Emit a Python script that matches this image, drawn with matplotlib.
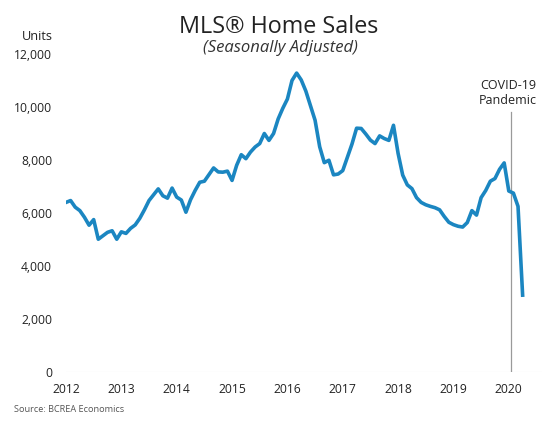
import matplotlib
matplotlib.use("Agg")
import matplotlib.pyplot as plt
import numpy as np

# monthly MLS home sales, Jan 2012 .. Apr 2020 (seasonally adjusted)
sales_2012 = [6400, 6470, 6220, 6090, 5840, 5540, 5750, 5010, 5140, 5270, 5330, 5010]
sales_2013 = [5290, 5230, 5420, 5550, 5800, 6120, 6470, 6690, 6910, 6650, 6560, 6940]
sales_2014 = [6600, 6490, 6030, 6500, 6850, 7160, 7200, 7450, 7700, 7550, 7540, 7580]
sales_2015 = [7230, 7800, 8200, 8050, 8300, 8490, 8620, 9000, 8740, 9000, 9550, 9950]
sales_2016 = [10300, 11000, 11280, 11020, 10600, 10050, 9500, 8500, 7900, 7990, 7440, 7470]
sales_2017 = [7600, 8100, 8600, 9200, 9190, 8980, 8750, 8620, 8910, 8810, 8740, 9310]
sales_2018 = [8250, 7430, 7060, 6920, 6580, 6400, 6310, 6250, 6200, 6120, 5870, 5650]
sales_2019 = [5560, 5500, 5470, 5640, 6090, 5920, 6580, 6850, 7200, 7300, 7650, 7890]
sales_2020 = [6830, 6750, 6250, 2900]

sales = sales_2012 + sales_2013 + sales_2014 + sales_2015 + sales_2016 + \
        sales_2017 + sales_2018 + sales_2019 + sales_2020
months = np.arange(len(sales))

years = ["2012", "2013", "2014", "2015", "2016", "2017", "2018", "2019", "2020"]
year_ticks = [12 * i for i in range(len(years))]
y_ticks = [0, 2000, 4000, 6000, 8000, 10000, 12000]
covid_month = 96.4

fig = plt.figure(figsize=(5.53, 4.21), dpi=100)
ax = fig.add_axes([66 / 553, 1 - 372 / 421, (542 - 66) / 553, (372 - 54) / 421])

ax.plot(months, sales, color="#1b86c1", lw=2.6, solid_joinstyle="round", zorder=3)
ax.axhline(0, color="#e3e3e3", lw=0.8, zorder=1)
ax.axvline(covid_month, ymin=0, ymax=(372 - 112) / 318, color="#9a9a9a", lw=0.9, zorder=2)

ax.set_xlim(0, 103.2)
ax.set_ylim(0, 12000)
ax.set_xticks(year_ticks)
ax.set_xticklabels(years)
ax.set_yticks(y_ticks)
ax.set_yticklabels([f"{v:,}" for v in y_ticks])
ax.tick_params(length=0, labelsize=8.7, colors="#222222")
ax.tick_params(axis="x", pad=8)
ax.tick_params(axis="y", pad=10)
for lab in ax.get_xticklabels() + ax.get_yticklabels():
    lab.set_fontfamily("Open Sans")
for s in ax.spines.values():
    s.set_visible(False)

fig.text(279 / 553, 1 - 27 / 421, "MLS® Home Sales", ha="center", va="center",
         fontsize=16.8, family="Open Sans", color="#222222")
fig.text(280 / 553, 1 - 48 / 421, "(Seasonally Adjusted)", ha="center", va="center",
         fontsize=12, family="Open Sans", style="italic", color="#333333")
fig.text(37.5 / 553, 1 - 36 / 421, "Units", ha="center", va="center",
         fontsize=9.2, family="Open Sans", color="#222222")
fig.text(508 / 553, 1 - 93 / 421, "COVID-19\nPandemic", ha="center", va="center",
         fontsize=9, family="Open Sans", color="#222222", linespacing=1.25)
fig.text(14 / 553, 1 - 409 / 421, "Source: BCREA Economics", ha="left", va="center",
         fontsize=6.6, family="Open Sans", color="#555555")

fig.savefig("out.png", dpi=100)
